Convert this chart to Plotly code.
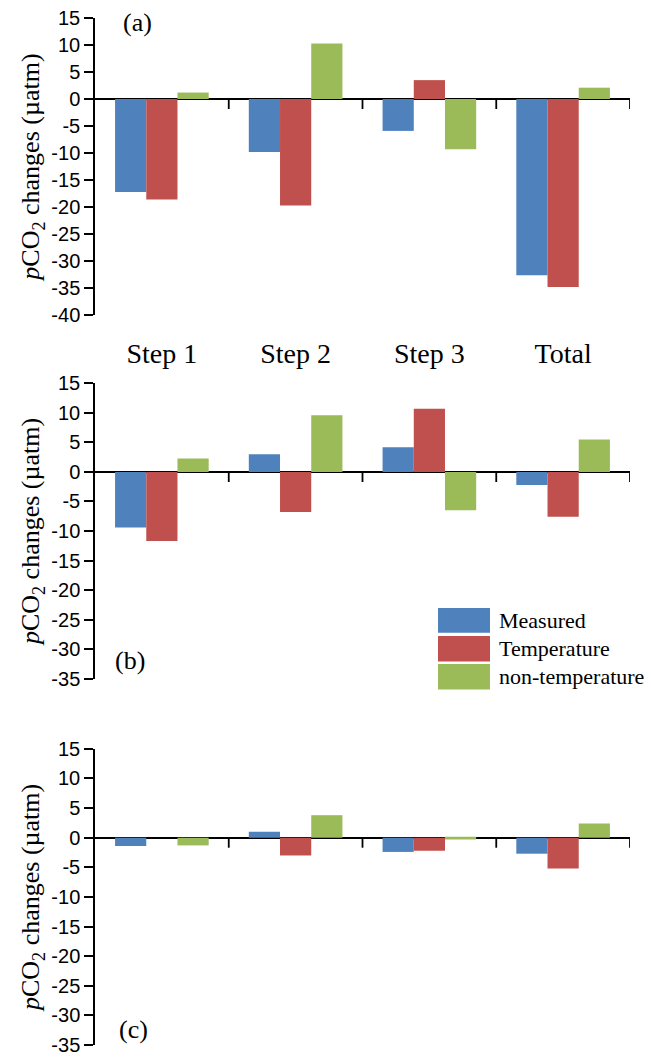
import plotly.graph_objects as go

# ---------------- data ----------------
categories = ["Step 1", "Step 2", "Step 3", "Total"]
series_names = ["Measured", "Temperature", "non-temperature"]
series_colors = ["#4F81BD", "#C0504D", "#9BBB59"]

a_measured = [-17.2, -9.8, -5.9, -32.6]
a_temperature = [-18.6, -19.7, 3.5, -34.8]
a_nontemp = [1.2, 10.3, -9.3, 2.1]

b_measured = [-9.4, 3.0, 4.2, -2.2]
b_temperature = [-11.7, -6.8, 10.7, -7.6]
b_nontemp = [2.3, 9.6, -6.5, 5.5]

c_measured = [-1.4, 1.0, -2.4, -2.7]
c_temperature = [0.0, -3.0, -2.2, -5.2]
c_nontemp = [-1.3, 3.8, -0.3, 2.4]

panel_labels = ["(a)", "(b)", "(c)"]
y_ranges = [[-40, 15], [-35, 15], [-35, 15]]
y_ticks_a = [15, 10, 5, 0, -5, -10, -15, -20, -25, -30, -35, -40]
y_ticks_bc = [15, 10, 5, 0, -5, -10, -15, -20, -25, -30, -35]
y_tick_sets = [y_ticks_a, y_ticks_bc, y_ticks_bc]

panels = [
    [a_measured, a_temperature, a_nontemp],
    [b_measured, b_temperature, b_nontemp],
    [c_measured, c_temperature, c_nontemp],
]

# ---------------- layout helpers ----------------
W, H = 651, 1063
ML, MR, MT, MB = 95, 21, 18, 7

def fx(px):
    return (px - ML) / (W - ML - MR)

def fy(py):
    return (H - MB - py) / (H - MT - MB)

y_domains = [
    [fy(318.3), 1.0],
    [fy(685.7), fy(387.3)],
    [0.0, fy(756.7)],
]

SERIF = "Liberation Serif, Times New Roman, serif"
SANS = "Liberation Sans, Arial, sans-serif"

fig = go.Figure()

for p, vals in enumerate(panels):
    n = "" if p == 0 else str(p + 1)
    for s, name in enumerate(series_names):
        fig.add_trace(go.Bar(
            x=categories, y=vals[s], name=name,
            marker=dict(color=series_colors[s], line=dict(width=0)),
            xaxis="x" + n, yaxis="y" + n, showlegend=False,
        ))

layout = dict(
    width=W, height=H,
    margin=dict(l=ML, r=MR, t=MT, b=MB),
    paper_bgcolor="white", plot_bgcolor="white",
    barmode="group", bargap=0.3, bargroupgap=0,
    showlegend=False,
)

shapes = []
annotations = []
for p in range(3):
    n = "" if p == 0 else str(p + 1)
    ticks = y_tick_sets[p]
    layout["xaxis" + n] = dict(
        anchor="y" + n, domain=[0, 1], range=[-0.5, 3.5],
        showline=False, showgrid=False, zeroline=False, ticks="",
        showticklabels=(p == 0),
        tickfont=dict(family=SERIF, size=28, color="black"),
        ticklabelstandoff=19,
    )
    layout["yaxis" + n] = dict(
        anchor="x" + n, domain=y_domains[p], range=y_ranges[p],
        tickmode="array", tickvals=ticks, ticktext=[str(t) for t in ticks],
        showline=True, linecolor="black", linewidth=1.5,
        ticks="outside", ticklen=9, tickwidth=1.5, tickcolor="black",
        showgrid=False,
        zeroline=True, zerolinecolor="black", zerolinewidth=1.5,
        tickfont=dict(family=SANS, size=20, color="black"),
        title=dict(text="<i>p</i>CO<sub>2</sub> changes (µatm)",
                   font=dict(family=SERIF, size=26, color="black"),
                   standoff=4),
        layer="above traces",
    )
    for xb in [0.5, 1.5, 2.5, 3.5]:
        shapes.append(dict(
            type="line", xref="x" + n, yref="y" + n,
            x0=xb, x1=xb, ysizemode="pixel", yanchor=0, y0=0, y1=-10,
            line=dict(color="black", width=1.8),
        ))

label_pos = [(137, 23), (130, 667), (133, 1040)]
for lab, (lx, ly) in zip(panel_labels, label_pos):
    annotations.append(dict(
        text=lab, xref="paper", yref="paper", x=fx(lx), y=fy(ly),
        xanchor="center", yanchor="middle", showarrow=False,
        font=dict(family=SERIF, size=26, color="black"),
    ))

# custom legend (large swatches)
leg_rows = [(614.3, 639.3), (642.7, 668.3), (671.0, 696.7)]
for (t, b), name, col in zip(leg_rows, series_names, series_colors):
    shapes.append(dict(
        type="rect", xref="paper", yref="paper",
        x0=fx(438), x1=fx(490), y0=fy(b), y1=fy(t),
        fillcolor=col, line=dict(width=0),
    ))
    annotations.append(dict(
        text=name, xref="paper", yref="paper", x=fx(497), y=fy((t + b) / 2),
        xanchor="left", yanchor="middle", showarrow=False,
        font=dict(family=SERIF, size=22, color="black"),
    ))

layout["shapes"] = shapes
layout["annotations"] = annotations
fig.update_layout(**layout)

fig.write_html("out.html")
